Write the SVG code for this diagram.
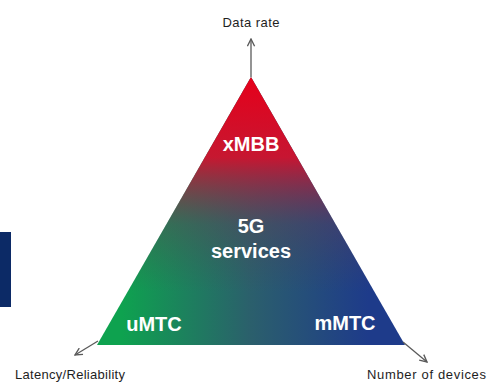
<svg xmlns="http://www.w3.org/2000/svg" width="487" height="383" viewBox="0 0 487 383">
  <style>
    .axis { font-family: "Liberation Sans", Arial, sans-serif; font-size: 13px; fill: #1e1e1e; }
    .inner { font-family: "Liberation Sans", Arial, sans-serif; font-size: 20px; font-weight: bold; fill: #ffffff; text-anchor: middle; }
    .conn { stroke: #5a5a5a; stroke-width: 1.3; fill: none; marker-end: url(#arr); }
  </style>
  <defs>
    <marker id="arr" viewBox="0 0 10 10" refX="9" refY="5" markerWidth="9" markerHeight="9" orient="auto" markerUnits="userSpaceOnUse">
      <path d="M1,1 L9,5 L1,9" fill="none" stroke="#5a5a5a" stroke-width="1.5"/>
    </marker>
    <linearGradient id="gb" gradientUnits="userSpaceOnUse" x1="97" y1="0" x2="405" y2="0">
      <stop offset="0.08" stop-color="#0ea24f"/>
      <stop offset="0.5" stop-color="#2b5f6c"/>
      <stop offset="0.88" stop-color="#1e3b8a"/>
    </linearGradient>
    <linearGradient id="rd" gradientUnits="userSpaceOnUse" x1="0" y1="77" x2="0" y2="345">
      <stop offset="0" stop-color="#e6001a" stop-opacity="1"/>
      <stop offset="0.3" stop-color="#d4102c" stop-opacity="0.92"/>
      <stop offset="0.55" stop-color="#6a3a50" stop-opacity="0.35"/>
      <stop offset="0.8" stop-color="#504050" stop-opacity="0"/>
    </linearGradient>
  </defs>

  <rect x="0" y="232" width="11" height="75" fill="#0c2a66"/>

  <g id="triangle">
    <polygon points="251,77 97,345 405,345" fill="url(#gb)"/>
    <polygon points="251,77 97,345 405,345" fill="url(#rd)"/>
  </g>

  <g id="connectors">
    <line class="conn" x1="251" y1="77" x2="251" y2="39"/>
    <line class="conn" x1="98" y1="341" x2="75" y2="355"/>
    <line class="conn" x1="403" y1="342" x2="427" y2="362"/>
  </g>

  <g id="xMBB"><text class="inner" x="251" y="151">xMBB</text></g>
  <g id="services"><text class="inner" x="251" y="233">5G</text><text class="inner" x="251" y="258">services</text></g>
  <g id="uMTC"><text class="inner" x="154" y="331">uMTC</text></g>
  <g id="mMTC"><text class="inner" x="345" y="330">mMTC</text></g>

  <g id="data-rate"><text class="axis" x="251" y="27" text-anchor="middle" textLength="57">Data rate</text></g>
  <g id="latency"><text class="axis" x="15" y="379" textLength="110">Latency/Reliability</text></g>
  <g id="devices"><text class="axis" x="367" y="379" textLength="119">Number of devices</text></g>
</svg>
